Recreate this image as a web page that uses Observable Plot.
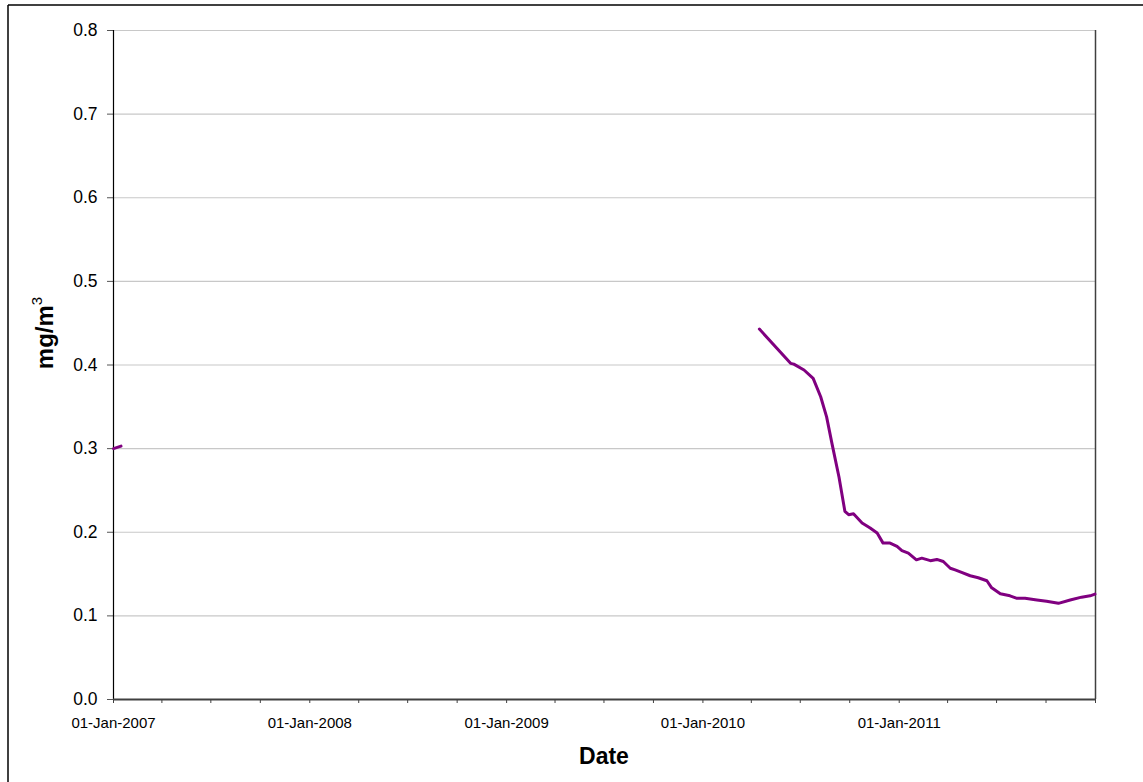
<!DOCTYPE html>
<html>
<head>
<meta charset="utf-8">
<script src="https://cdn.jsdelivr.net/npm/d3@7"></script>
<script src="https://cdn.jsdelivr.net/npm/@observablehq/plot@0.6"></script>
<style>
  html, body { margin: 0; padding: 0; background: #fff; overflow: hidden; }
  #chart svg { display: block; }
</style>
</head>
<body>
<div id="chart"></div>
<script>
// ---- data ----
const earlyDates = ["2007-01-01", "2007-01-15"];
const earlyValues = [0.300, 0.303];

const mainDates = [
  "2010-04-16","2010-06-13","2010-06-19","2010-07-08","2010-07-25","2010-08-08",
  "2010-08-19","2010-08-29","2010-09-11","2010-09-22","2010-09-29","2010-10-08",
  "2010-10-11","2010-10-24","2010-11-08","2010-11-21","2010-12-02","2010-12-15",
  "2010-12-28","2011-01-06","2011-01-18","2011-02-02","2011-02-12","2011-02-28",
  "2011-03-12","2011-03-24","2011-04-06","2011-04-15","2011-04-27","2011-05-13",
  "2011-05-28","2011-06-13","2011-06-22","2011-07-08","2011-07-26","2011-08-08",
  "2011-08-23","2011-09-14","2011-10-02","2011-10-24","2011-11-15","2011-12-06",
  "2011-12-22","2011-12-31"
];
const mainValues = [
  0.443,0.402,0.401,0.394,0.384,0.362,
  0.338,0.306,0.266,0.225,0.221,0.222,
  0.220,0.211,0.205,0.199,0.187,0.187,
  0.183,0.178,0.175,0.167,0.169,0.166,
  0.1675,0.165,0.157,0.155,0.152,0.148,
  0.1456,0.142,0.1336,0.1264,0.124,0.121,
  0.121,0.119,0.1176,0.115,0.119,0.1224,
  0.124,0.126
];

const yTicks = [0, 0.1, 0.2, 0.3, 0.4, 0.5, 0.6, 0.7, 0.8];
const xLabelYears = [2007, 2008, 2009, 2010, 2011];
const xStart = "2007-01-01";
const xEnd = "2012-01-01";
const yLabelBase = "mg/m";
const yLabelSup = "3";
const xLabel = "Date";

// ---- build ----
const parse = d3.utcParse("%Y-%m-%d");
const early = earlyDates.map((d, i) => ({date: parse(d), value: earlyValues[i]}));
const main = mainDates.map((d, i) => ({date: parse(d), value: mainValues[i]}));
const x0 = parse(xStart), x1 = parse(xEnd);
const xTicks = d3.utcMonth.every(3).range(x0, d3.utcDay.offset(x1, 1));
const fmtLabel = d3.utcFormat("%d-%b-%Y");
const tickFormat = d => (d.getUTCMonth() === 0 && xLabelYears.includes(d.getUTCFullYear())) ? fmtLabel(d) : "";

const W = 1143, H = 782;
const FONT = "'Liberation Sans', Arial, sans-serif";
const plot = Plot.plot({
  width: W,
  height: H,
  marginLeft: 113,
  marginRight: 48,
  marginTop: 30,
  marginBottom: 83,
  style: {fontFamily: FONT, color: "#000", background: "#fff"},
  x: {type: "utc", domain: [x0, x1]},
  y: {domain: [0, 0.8]},
  marks: [
    Plot.ruleY(yTicks.filter(v => v > 0), {stroke: "#c8c8c8", strokeWidth: 1.2}),
    Plot.ruleX([x1], {stroke: "#404040", strokeWidth: 1.5}),
    Plot.axisY({ticks: yTicks, tickFormat: d3.format(".1f"), tickSize: 6, tickPadding: 10,
                fontSize: 17.5, stroke: "#555", label: null}),
    Plot.axisX({ticks: xTicks, tickFormat, tickSize: 4, tickPadding: 13.5,
                fontSize: 15, stroke: "#404040", label: null}),
    Plot.ruleX([x0], {stroke: "#000", strokeWidth: 1.2}),
    Plot.ruleY([0], {stroke: "#404040", strokeWidth: 2}),
    Plot.line(early, {x: "date", y: "value", stroke: "#800080", strokeWidth: 3}),
    Plot.line(main, {x: "date", y: "value", stroke: "#800080", strokeWidth: 3})
  ]
});

const svg = d3.select(plot);
// outer frame (extends beyond the picture on right/bottom)
svg.append("line").attr("x1", 8).attr("x2", 8).attr("y1", 5).attr("y2", H)
  .attr("stroke", "#000").attr("stroke-width", 1.5);
svg.append("line").attr("x1", 8).attr("x2", W).attr("y1", 5).attr("y2", 5)
  .attr("stroke", "#000").attr("stroke-width", 1.5);
// axis titles
svg.append("text").text(xLabel)
  .attr("x", 604).attr("y", 764).attr("text-anchor", "middle")
  .attr("font-family", FONT)
  .attr("font-weight", "bold").attr("font-size", 23).attr("fill", "#000");
const yl = svg.append("text")
  .attr("transform", "translate(53,333) rotate(-90)").attr("text-anchor", "middle")
  .attr("font-family", FONT)
  .attr("font-weight", "bold").attr("font-size", 24).attr("fill", "#000");
yl.append("tspan").text(yLabelBase);
yl.append("tspan").text(yLabelSup).attr("font-size", 15).attr("font-weight", "normal").attr("dy", -11);

document.getElementById("chart").appendChild(plot);
</script>
</body>
</html>
